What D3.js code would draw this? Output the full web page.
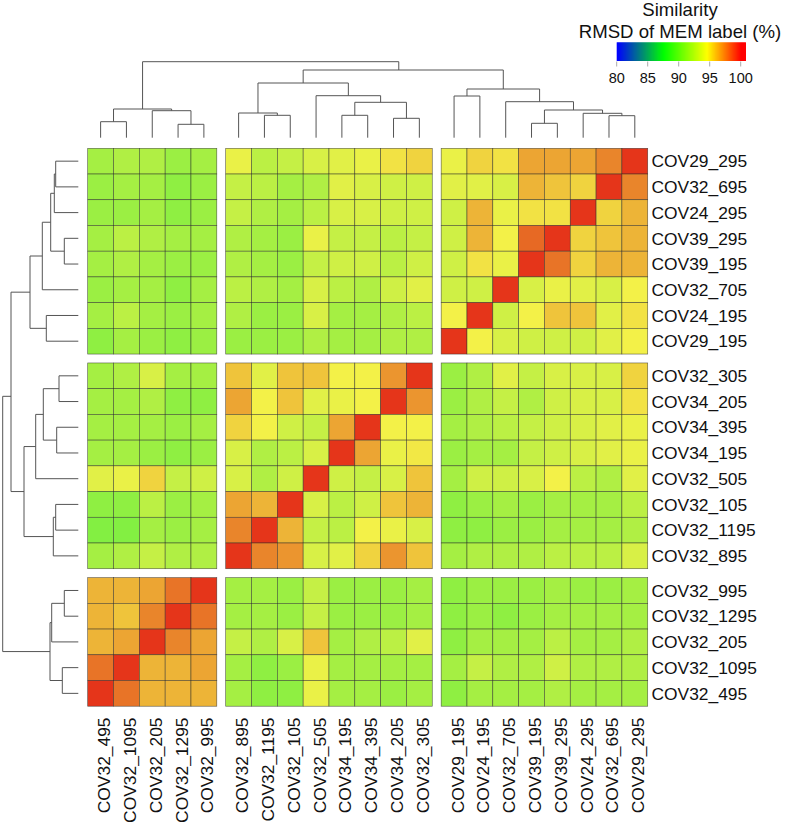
<!DOCTYPE html>
<html>
<head>
<meta charset="utf-8">
<script src="https://cdn.jsdelivr.net/npm/d3@7"></script>
<style>
  body { margin: 0; background: #fff; }
  svg { display: block; }
  text { font-family: "Liberation Sans", Arial, sans-serif; fill: #111; }
</style>
</head>
<body>
<div id="chart"></div>
<script>
const rowLabels = ["COV29_295", "COV32_695", "COV24_295", "COV39_295", "COV39_195", "COV32_705", "COV24_195", "COV29_195",
  "COV32_305", "COV34_205", "COV34_395", "COV34_195", "COV32_505", "COV32_105", "COV32_1195", "COV32_895",
  "COV32_995", "COV32_1295", "COV32_205", "COV32_1095", "COV32_495"];
const colLabels = ["COV32_495", "COV32_1095", "COV32_205", "COV32_1295", "COV32_995",
  "COV32_895", "COV32_1195", "COV32_105", "COV32_505", "COV34_195", "COV34_395", "COV34_205", "COV32_305",
  "COV29_195", "COV24_195", "COV32_705", "COV39_195", "COV39_295", "COV24_295", "COV32_695", "COV29_295"];
const rowSlices = [8, 8, 5];
const colSlices = [5, 8, 8];

// similarity (%), one array per row, columns in display order
const similarity = [
  [90.5, 91, 91, 90, 90.5, 94, 91.5, 92, 93, 93.5, 94, 95, 95.5, 94, 95.5, 95, 97, 97, 97, 98, 100],
  [90, 90.5, 90.5, 89.5, 90, 92, 91.5, 90.5, 91, 93.5, 93, 92.5, 92.5, 93.5, 93.5, 93, 96.5, 96, 95.5, 100, 98],
  [90, 90, 90.5, 89.5, 90, 92, 91, 90.5, 91.5, 93, 93, 92.5, 92.5, 92.5, 96.5, 94, 95, 95, 100, 95.5, 96.5],
  [90.5, 91.5, 91, 90.5, 90.5, 91, 90.5, 90, 94, 92, 92, 91.5, 92, 92.5, 96.5, 94.5, 98.8, 100, 95.5, 96, 96.5],
  [90.5, 91, 90.5, 90, 90, 91, 90.5, 90, 92, 92.5, 92.5, 91.5, 92.5, 92.5, 95, 94, 100, 98.5, 95.5, 96.5, 96.5],
  [90, 90.5, 90.5, 89.5, 90.5, 91.5, 91, 90.5, 93, 91.5, 91, 92.5, 93.5, 92.5, 92.5, 100, 93, 94, 93.5, 93, 94.5],
  [90.5, 91.5, 90.5, 90, 90.5, 91, 90, 90, 93, 90.5, 90.5, 91, 91.5, 94.5, 100, 92.5, 94.5, 96, 96, 93.5, 95],
  [89.5, 90.5, 90, 89.5, 90, 90, 90, 90, 91, 90.5, 90.5, 91, 91, 100, 94.5, 93, 92.5, 92.5, 92.5, 93.5, 94.5],
  [90.5, 91, 93, 90.5, 90.5, 96, 93.5, 96, 96, 94.5, 94.5, 97.5, 100, 90, 91, 93.5, 92, 93, 93, 93, 95.5],
  [90.5, 90.5, 91, 89.5, 89.5, 97, 94.5, 96, 93.5, 94, 94.5, 100, 97.5, 90, 91, 92, 91, 92.5, 93, 93, 95],
  [90.5, 90.5, 90.5, 90, 90.5, 95.5, 94.5, 92.5, 92, 97, 100, 94.5, 94.5, 90.5, 91, 91.5, 92, 92.5, 93, 93.5, 94],
  [90.5, 90.5, 90, 89.5, 90, 93, 91, 91.5, 93, 100, 97, 94, 94.8, 90, 90.5, 90.5, 92, 92.5, 93, 93.5, 94],
  [93.5, 94, 95.5, 92, 92.5, 93, 91, 92.5, 100, 92.5, 92, 93, 96, 90.5, 92.5, 92.5, 93, 94.5, 91.5, 91, 93.5],
  [89.5, 89.5, 91.5, 90, 90.5, 97, 96.5, 100, 93, 91.5, 92.5, 96, 96.5, 89.5, 90, 90.5, 90, 90.5, 90.5, 90.5, 91.5],
  [89, 89, 90.5, 90, 90.5, 98, 100, 96.5, 92, 91.5, 94.5, 94, 93, 89.5, 89.5, 90, 90, 90.5, 90.5, 90.5, 91],
  [90.5, 91, 92, 91, 91, 100, 98, 97.5, 93, 93.5, 95.5, 97.5, 96, 90.5, 91, 91, 91, 91.5, 91.5, 91.5, 93],
  [96.5, 96.5, 97, 98.5, 100, 90.5, 90.5, 90, 92, 90, 90, 90, 90.5, 89.5, 90, 90, 90, 90.5, 90, 90, 90.5],
  [96.5, 96, 98, 100, 98.5, 90.5, 90.5, 90, 92, 90, 90, 90, 90.5, 89.5, 90, 89.5, 90, 90.5, 90.5, 90.5, 90.5],
  [96.5, 97, 100, 98, 97, 92, 91, 93, 96, 90.5, 91, 91.5, 93.5, 89.5, 90.5, 90.5, 90.5, 91.5, 90.5, 90.5, 91],
  [98.5, 100, 96.5, 96.5, 97, 90.5, 89.5, 90, 94, 90.5, 90.5, 90.5, 90.5, 90.5, 92, 91, 91, 92.5, 91, 91, 91],
  [100, 98.5, 96.5, 96.5, 96.5, 90.5, 89.5, 89.5, 94, 90.5, 90.5, 90, 90.5, 89.5, 90.5, 90.5, 90.5, 91, 90.5, 90.5, 90.5]
];

// dendrograms as [height, left, right]; plain numbers are leaf positions
const rowTree = [75.6,
  [67.3,
    [48.3, [36, [27.6, [24, [22.6, 0, 1], 2], [14, 3, 4]], 5], [32, 6, 7]],
    [54.3, [42.6, [35, [19.3, 8, 9], [21.6, 10, 11]], 12], [25, [22.6, 13, 14], 15]]],
  [28.3, [26.6, [14, 16, 17], 18], [16, 19, 20]]];
const colTree = [76,
  [28.7, [16, 0, 1], [27, 2, [13.4, 3, 4]]],
  [67.7,
    [54.7, [24.7, 5, [22.4, 6, 7]], [42, 8, [35.4, [22.4, 9, 10], [19.4, 11, 12]]]],
    [48.7, [41.7, 13, 14], [36, 15, [27.7, [14.4, 16, 17], [24.4, 18, [22, 19, 20]]]]]]];

const legendTicks = [80, 85, 90, 95, 100];
const colorStops = [80, 87.5, 94.5, 100];
const colorRange = ["#0000ff", "#00ff00", "#ffff00", "#ff0000"];

const width = 787, height = 823;
const hm = { x: 87.7, y: 148.3, cw: 25.82, ch: 25.72, gap: 8.9 };

const svg = d3.select("#chart").append("svg")
  .attr("width", width)
  .attr("height", height);

const color = d3.scaleLinear()
  .domain(colorStops)
  .range(colorRange)
  .interpolate(d3.interpolateLab)
  .clamp(true);

// key bar looks rgb-blended (dark teal between blue and green)
const keyColor = d3.scaleLinear()
  .domain(colorStops)
  .range(colorRange)
  .clamp(true);

// the cells in the figure come out a bit duller than the key
function cellColor(v) {
  const c = d3.hcl(color(v));
  c.c *= 0.82;
  c.l *= 0.955;
  return c.formatHex();
}

// piecewise scale from leaf index to cell centre, gaps between slices
function centreScale(slices, start, size, gap) {
  const dom = [], rng = [];
  let i = 0, pos = start;
  slices.forEach(n => {
    dom.push(i, i + n - 1);
    rng.push(pos + size / 2, pos + size * (n - 0.5));
    i += n;
    pos += n * size + gap;
  });
  return d3.scaleLinear().domain(dom).range(rng);
}
const colX = centreScale(colSlices, hm.x, hm.cw, hm.gap);
const rowY = centreScale(rowSlices, hm.y, hm.ch, hm.gap);

// cells
const cells = svg.append("g");
similarity.forEach((row, r) => {
  cells.selectAll(null)
    .data(row)
    .join("rect")
    .attr("x", (d, c) => colX(c) - hm.cw / 2)
    .attr("y", rowY(r) - hm.ch / 2)
    .attr("width", hm.cw)
    .attr("height", hm.ch)
    .attr("fill", d => cellColor(d))
    .attr("stroke", "#2a2a2a")
    .attr("stroke-opacity", 0.75)
    .attr("stroke-width", 0.6);
});

// dendrograms
function walk(node, segs) {
  if (typeof node === "number") return { pos: node, h: 0 };
  const a = walk(node[1], segs), b = walk(node[2], segs);
  segs.push({ a, b, h: node[0] });
  return { pos: (a.pos + b.pos) / 2, h: node[0] };
}

const colSegs = [];
walk(colTree, colSegs);
const colH = d3.scaleLinear().domain([0, 76]).range([137.7, 61.7]);
svg.append("g").selectAll("path")
  .data(colSegs)
  .join("path")
  .attr("fill", "none")
  .attr("stroke", "#555")
  .attr("stroke-width", 1)
  .attr("d", s => `M${colX(s.a.pos)},${colH(s.a.h)}V${colH(s.h)}H${colX(s.b.pos)}V${colH(s.b.h)}`);

const rowSegs = [];
walk(rowTree, rowSegs);
const rowH = d3.scaleLinear().domain([0, 75.6]).range([78.3, 2.7]);
svg.append("g").selectAll("path")
  .data(rowSegs)
  .join("path")
  .attr("fill", "none")
  .attr("stroke", "#555")
  .attr("stroke-width", 1)
  .attr("d", s => `M${rowH(s.a.h)},${rowY(s.a.pos)}H${rowH(s.h)}V${rowY(s.b.pos)}H${rowH(s.b.h)}`);

// labels
svg.append("g").selectAll("text")
  .data(rowLabels)
  .join("text")
  .attr("x", 651.5)
  .attr("y", (d, i) => rowY(i) + 6.2)
  .style("font-size", "17.4px")
  .text(d => d);

svg.append("g").selectAll("text")
  .data(colLabels)
  .join("text")
  .attr("transform", (d, i) => `translate(${colX(i) + 9.5},717.5) rotate(-90)`)
  .attr("text-anchor", "end")
  .style("font-size", "17.4px")
  .text(d => d);

// legend
const lx = d3.scaleLinear().domain([80, 100]).range([616.7, 740.7]);
const legend = svg.append("g");
const barPx = d3.range(616.7, 745, 1);
legend.selectAll("rect")
  .data(barPx)
  .join("rect")
  .attr("x", d => d)
  .attr("y", 42.3)
  .attr("width", 1.3)
  .attr("height", 18.7)
  .attr("fill", d => keyColor(lx.invert(d)));

legend.selectAll("line")
  .data(legendTicks)
  .join("line")
  .attr("x1", d => lx(d)).attr("x2", d => lx(d))
  .attr("y1", 61.5).attr("y2", 66.5)
  .attr("stroke", "#aaa")
  .attr("stroke-width", 1);

legend.selectAll("text.tick")
  .data(legendTicks)
  .join("text")
  .attr("class", "tick")
  .attr("x", d => lx(d))
  .attr("y", 83)
  .attr("text-anchor", "middle")
  .style("font-size", "14.5px")
  .text(d => d);

legend.append("text")
  .attr("x", 680).attr("y", 16)
  .attr("text-anchor", "middle")
  .style("font-size", "18.6px")
  .text("Similarity");
legend.append("text")
  .attr("x", 680).attr("y", 37.8)
  .attr("text-anchor", "middle")
  .style("font-size", "18.6px")
  .text("RMSD of MEM label (%)");
</script>
</body>
</html>
